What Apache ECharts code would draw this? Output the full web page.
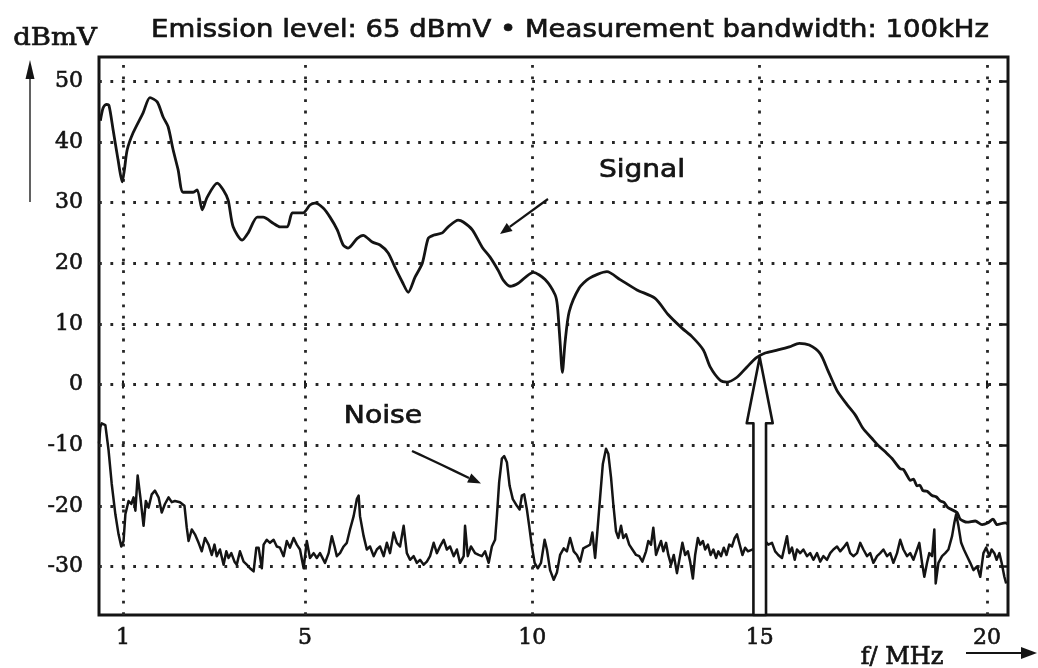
<!DOCTYPE html>
<html><head><meta charset="utf-8">
<script src="https://cdn.jsdelivr.net/npm/echarts@6/dist/echarts.min.js"></script>
<style>html,body{margin:0;padding:0;background:#fff}#c{width:1038px;height:668px}</style>
</head><body><div id="c"></div>
<script>
// ---- data (f in MHz, level in dBmV) ----
const yTicks = [-30, -20, -10, 0, 10, 20, 30, 40, 50];
const xTicks = [1, 5, 10, 15, 20];
const signal = [
[0.50,43.5],[0.56,45.6],[0.63,46.2],[0.69,46.0],[0.78,42.0],[0.89,37.0],[0.98,33.4],[1.03,35.5],[1.09,38.7],[1.22,41.5],
[1.44,44.8],[1.59,47.3],[1.75,46.6],[1.88,44.1],[1.99,42.5],[2.10,38.7],[2.21,35.4],[2.32,31.7],[2.54,31.7],[2.63,32.1],
[2.74,28.8],[2.85,30.9],[3.07,33.2],[3.20,32.1],[3.31,30.4],[3.42,26.0],[3.62,23.8],[3.75,25.0],[3.95,27.6],[4.08,27.6],
[4.30,26.6],[4.45,26.0],[4.61,26.0],[4.72,28.3],[4.85,28.3],[4.96,28.3],[5.11,29.6],[5.22,29.9],[5.40,29.1],[5.55,27.6],
[5.71,25.5],[5.84,23.0],[5.95,22.5],[6.15,24.1],[6.28,24.6],[6.48,23.5],[6.65,23.0],[6.83,21.7],[6.98,19.3],[7.14,16.9],
[7.27,15.2],[7.42,17.7],[7.58,20.0],[7.71,24.1],[7.82,24.6],[8.02,25.0],[8.15,26.0],[8.37,27.1],[8.48,26.8],[8.68,25.5],
[8.90,22.6],[9.07,21.0],[9.25,18.8],[9.36,17.2],[9.51,16.2],[9.69,16.7],[10.02,18.5],[10.28,17.3],[10.50,14.8],[10.55,13.0],
[10.61,7.0],[10.66,2.0],[10.72,7.0],[10.81,12.0],[11.03,15.9],[11.25,17.5],[11.64,18.6],[11.93,17.3],[12.30,15.6],[12.70,14.2],
[12.99,11.5],[13.29,9.3],[13.51,7.9],[13.76,5.7],[13.91,2.9],[14.13,0.7],[14.28,0.4],[14.50,1.2],[14.72,2.9],[14.92,4.4],
[15.12,5.2],[15.34,5.6],[15.65,6.2],[15.87,6.8],[16.09,6.5],[16.33,5.1],[16.50,2.3],[16.70,-1.0],[16.92,-3.3],[17.10,-5.0],
[17.27,-7.2],[17.47,-8.9],[17.60,-10.0],[17.76,-11.1],[17.91,-12.2],[18.09,-13.9],[18.16,-14.0],[18.24,-15.0],[18.31,-15.8],[18.38,-15.6],
[18.46,-16.7],[18.52,-16.6],[18.59,-17.5],[18.68,-17.6],[18.79,-18.3],[18.88,-18.5],[18.97,-19.2],[19.05,-19.4],[19.14,-20.3],[19.34,-21.1],
[19.41,-22.2],[19.56,-22.7],[19.74,-22.5],[19.89,-23.1],[20.02,-22.8],[20.13,-22.2],[20.22,-23.1],[20.40,-22.8],[20.46,-23.0]
];
const noise = [
[0.47,-9.7],[0.50,-7.0],[0.53,-6.4],[0.61,-6.7],[0.68,-10.8],[0.75,-16.4],[0.83,-21.4],[0.90,-24.7],[0.96,-26.7],[1.01,-25.8],
[1.05,-21.4],[1.12,-19.2],[1.18,-19.7],[1.23,-18.6],[1.27,-20.8],[1.32,-15.0],[1.38,-18.6],[1.45,-23.3],[1.50,-19.2],[1.56,-20.3],
[1.63,-18.1],[1.70,-17.5],[1.78,-18.6],[1.85,-21.1],[1.92,-19.7],[2.00,-18.6],[2.07,-19.4],[2.14,-19.2],[2.25,-19.4],[2.35,-20.0],
[2.40,-23.6],[2.44,-25.8],[2.51,-23.9],[2.58,-24.7],[2.66,-26.1],[2.73,-27.5],[2.80,-25.3],[2.88,-26.4],[2.95,-28.1],[3.01,-26.4],
[3.06,-28.3],[3.13,-27.2],[3.21,-29.7],[3.27,-27.5],[3.32,-28.6],[3.38,-27.8],[3.45,-29.2],[3.50,-29.7],[3.57,-27.5],[3.65,-29.2],
[3.72,-29.7],[3.79,-30.3],[3.87,-30.8],[3.93,-26.9],[3.98,-26.9],[4.05,-30.3],[4.09,-26.4],[4.16,-25.6],[4.23,-26.1],[4.31,-25.6],
[4.38,-26.7],[4.45,-26.9],[4.53,-28.3],[4.60,-25.8],[4.67,-26.9],[4.75,-25.3],[4.82,-26.4],[4.89,-27.2],[4.97,-30.3],[5.04,-25.8],
[5.11,-28.6],[5.19,-27.8],[5.26,-28.6],[5.33,-27.8],
[5.44,-29.4],[5.52,-27.8],[5.59,-25.0],[5.65,-26.7],[5.70,-28.3],[5.77,-27.8],[5.85,-26.7],[5.92,-26.1],[5.99,-23.9],[6.07,-21.7],
[6.14,-18.9],[6.18,-18.3],[6.21,-21.7],[6.29,-25.0],[6.36,-27.2],[6.43,-26.7],[6.51,-28.3],[6.58,-27.2],[6.65,-26.7],[6.73,-28.3],
[6.80,-26.1],[6.87,-27.8],[6.95,-24.4],[7.02,-26.1],[7.09,-26.7],[7.17,-23.3],[7.24,-27.8],[7.31,-28.9],[7.39,-28.3],[7.46,-29.4],
[7.53,-28.9],[7.61,-29.7],[7.68,-29.2],[7.75,-28.3],[7.83,-26.1],[7.90,-27.8],[7.97,-26.7],[8.05,-25.6],[8.12,-27.2],[8.19,-26.7],
[8.27,-28.3],[8.34,-27.2],[8.41,-29.4],[8.49,-28.3],[8.52,-23.3],[8.58,-28.3],[8.65,-26.7],[8.74,-27.8],[8.82,-28.1],[8.89,-28.3],
[8.96,-27.5],[9.04,-29.4],[9.11,-26.7],[9.18,-25.6],[9.22,-21.7],[9.27,-16.1],[9.33,-12.2],[9.38,-11.8],[9.44,-12.8],[9.50,-16.7],
[9.57,-18.9],[9.66,-20.0],[9.72,-20.6],[9.77,-18.3],[9.82,-18.1],[9.88,-20.6],[9.93,-23.3],[9.99,-26.7],[10.05,-29.4],[10.12,-30.3],
[10.19,-29.4],[10.27,-25.6],[10.32,-27.2],[10.39,-30.6],[10.47,-32.2],[10.54,-31.0],
[10.61,-28.1],[10.69,-27.0],[10.76,-27.5],[10.83,-25.3],[10.91,-27.5],[10.98,-28.1],[11.05,-29.2],[11.12,-27.0],[11.20,-26.7],[11.27,-26.4],
[11.32,-24.4],[11.38,-28.6],[11.43,-24.2],[11.49,-18.6],[11.55,-13.1],[11.62,-10.6],[11.67,-11.4],[11.73,-15.3],[11.78,-19.7],[11.84,-24.2],
[11.89,-25.3],[11.95,-23.3],[12.00,-25.3],[12.06,-24.7],[12.13,-26.4],[12.20,-27.2],[12.28,-28.1],[12.35,-28.3],[12.42,-29.2],[12.50,-27.5],
[12.55,-25.8],[12.61,-26.4],[12.66,-23.6],[12.72,-28.1],[12.77,-27.0],[12.83,-25.8],[12.88,-27.5],[12.94,-26.1],[12.99,-28.1],[13.05,-29.7],
[13.11,-28.1],[13.18,-31.1],[13.24,-28.6],[13.30,-26.1],[13.36,-28.1],[13.42,-27.5],[13.47,-29.2],[13.53,-32.0],[13.58,-28.1],[13.64,-25.3],
[13.69,-26.4],[13.75,-25.8],[13.80,-27.2],[13.86,-26.4],[13.92,-28.1],[13.98,-27.2],[14.04,-28.6],[14.09,-27.5],[14.15,-28.3],[14.21,-26.9],
[14.27,-28.1],[14.33,-26.4],[14.39,-26.7],[14.45,-25.3],[14.50,-24.7],[14.56,-26.4],[14.62,-28.1],[14.68,-26.9],[14.74,-27.5],[14.90,-27.0],
[15.05,-26.5],[15.12,-25.8],[15.19,-26.4],[15.27,-26.1],[15.34,-27.5],[15.41,-28.1],[15.49,-28.6],
[15.60,-25.0],[15.65,-27.8],[15.71,-26.9],[15.77,-28.9],[15.82,-27.2],[15.89,-27.8],[15.96,-27.2],[16.04,-28.3],[16.11,-27.8],[16.18,-28.9],
[16.26,-27.8],[16.33,-29.2],[16.40,-28.3],[16.48,-28.9],[16.55,-27.8],[16.62,-27.2],[16.70,-26.7],[16.77,-27.5],[16.84,-26.9],[16.92,-26.1],
[16.99,-27.8],[17.06,-28.3],[17.14,-27.8],[17.21,-26.1],[17.28,-27.2],[17.36,-28.3],[17.43,-27.8],[17.50,-29.4],[17.58,-28.3],[17.65,-27.8],
[17.72,-27.2],[17.80,-28.3],[17.87,-27.8],[17.94,-29.4],[18.02,-27.8],[18.09,-25.6],[18.16,-27.2],[18.24,-28.3],[18.31,-27.8],[18.38,-28.9],
[18.46,-27.2],[18.51,-26.1],[18.57,-29.4],[18.62,-31.7],[18.68,-29.4],[18.73,-27.8],[18.79,-28.3],[18.84,-23.9],[18.87,-32.8],[18.93,-29.4],
[19.01,-28.3],[19.08,-27.8],[19.15,-27.2],[19.23,-25.0],[19.28,-22.8],[19.32,-21.4],[19.37,-23.3],[19.43,-26.1],[19.49,-27.2],[19.56,-28.3],
[19.63,-29.4],[19.70,-30.6],[19.78,-30.0],[19.85,-31.7],[19.92,-27.8],[19.98,-26.9],[20.05,-28.3],[20.10,-27.2],[20.16,-27.8],[20.21,-28.9],
[20.27,-27.8],[20.32,-29.4],[20.38,-31.7],[20.42,-32.8]
];
const markerFreq = 15;     // emission frequency (hollow arrow)
const markerLevel = 4.5;   // where the arrow tip meets the signal
const xMin = 0.47, xMax = 20.46, yMin = -38, yMax = 54;

// ---- chart ----
const ink = '#141414';
const dotted = {color: '#262626', width: 2.8, type: [2.8, 8.6], cap: 'butt', opacity: 1};
const chart = echarts.init(document.getElementById('c'), null, {renderer: 'canvas'});
const sans = '"DejaVu Sans", sans-serif';
const serif = '"DejaVu Serif", serif';
const heavy = {stroke: ink, lineWidth: 0.7};

const option = {
  animation: false,
  grid: {left: 99, right: 30, top: 57, bottom: 53, show: true, borderColor: ink, borderWidth: 3, backgroundColor: 'rgba(0,0,0,0)'},
  xAxis: [
    {type: 'value', min: xMin, max: xMax, axisLine: {show: false}, splitLine: {show: false},
     axisTick: {show: true, customValues: xTicks, length: 4, lineStyle: {color: ink, width: 2}},
     axisLabel: {customValues: xTicks, fontFamily: serif, fontSize: 22, color: ink, margin: 12, textBorderColor: ink, textBorderWidth: 0.6}},
    {type: 'value', position: 'top', min: xMin, max: xMax, axisLine: {show: false}, splitLine: {show: false},
     axisTick: {show: true, customValues: xTicks, length: 4, lineStyle: {color: ink, width: 2}},
     axisLabel: {show: false}}
  ],
  yAxis: [
    {type: 'value', min: yMin, max: yMax, axisLine: {show: false}, splitLine: {show: false}, axisTick: {show: false},
     axisLabel: {customValues: yTicks, fontFamily: serif, fontSize: 22, color: ink, margin: 16, textBorderColor: ink, textBorderWidth: 0.6}},
    {type: 'value', position: 'right', min: yMin, max: yMax, axisLine: {show: false}, splitLine: {show: false},
     axisLabel: {show: false},
     axisTick: {show: true, inside: true, length: 9, customValues: yTicks, lineStyle: {color: ink, width: 2.5}}}
  ],
  series: [
    {type: 'line', name: 'grid', data: [[xTicks[0], yTicks[0]]], symbol: 'none', lineStyle: {opacity: 0}, z: 1, silent: true,
     markLine: {silent: true, symbol: ['none', 'none'], label: {show: false}, lineStyle: dotted,
       emphasis: {disabled: true},
       data: yTicks.map(v => ({yAxis: v})).concat(xTicks.map(v => ({xAxis: v})))}},
    {type: 'line', name: 'Signal', data: signal, symbol: 'none', smooth: 0.25, lineStyle: {color: ink, width: 2.8}, z: 5, silent: true},
    {type: 'line', name: 'Noise', data: noise, symbol: 'none', lineStyle: {color: ink, width: 2.5, join: 'round'}, z: 5, silent: true}
  ],
  graphic: [
    {type: 'rect', id: 'boxSignal', z: 3, shape: {x: 552, y: 133, width: 176, height: 62}, style: {fill: '#fff'}},
    {type: 'rect', id: 'boxNoise', z: 3, shape: {x: 315, y: 373, width: 142, height: 84}, style: {fill: '#fff'}},
    {type: 'text', id: 'title', z: 10, x: 570, y: 30, scaleX: 1.1,
     style: Object.assign({text: 'Emission level: 65 dBmV \u2022 Measurement bandwidth: 100kHz', font: '25px ' + sans, fill: ink, align: 'center', verticalAlign: 'middle'}, heavy)},
    {type: 'text', id: 'yname', z: 10, x: 55, y: 38, scaleX: 1.1,
     style: Object.assign({text: 'dBmV', font: '25px ' + serif, fill: ink, align: 'center', verticalAlign: 'middle'}, heavy)},
    {type: 'line', id: 'yarrowLine', z: 10, shape: {x1: 30, y1: 202, x2: 30, y2: 74}, style: {stroke: '#3a3a3a', lineWidth: 1.6}},
    {type: 'polygon', id: 'yarrowHead', z: 10, shape: {points: [[30, 60], [25.5, 79], [34.5, 79]]}, style: {fill: ink}},
    {type: 'text', id: 'xname', z: 10, x: 902, y: 658,
     style: Object.assign({text: 'f/ MHz', font: '24px ' + serif, fill: ink, align: 'center', verticalAlign: 'middle'}, heavy)},
    {type: 'line', id: 'xarrowLine', z: 10, shape: {x1: 966, y1: 653, x2: 1024, y2: 653}, style: {stroke: ink, lineWidth: 2}},
    {type: 'polygon', id: 'xarrowHead', z: 10, shape: {points: [[1037, 653], [1021, 647], [1021, 659]]}, style: {fill: ink}},
    {type: 'text', id: 'sigLabel', z: 10, x: 642, y: 170, scaleX: 1.12,
     style: Object.assign({text: 'Signal', font: '25px ' + sans, fill: ink, align: 'center', verticalAlign: 'middle'}, heavy)},
    {type: 'line', id: 'sigArrow', z: 10, shape: {x1: 548, y1: 199, x2: 509.7, y2: 226.9}, style: {stroke: ink, lineWidth: 2.2}},
    {type: 'polygon', id: 'sigHead', z: 10, shape: {points: [[500, 234], [512.6, 230.9], [506.7, 222.9]]}, style: {fill: ink}},
    {type: 'text', id: 'noiseLabel', z: 10, x: 383, y: 416, scaleX: 1.13,
     style: Object.assign({text: 'Noise', font: '25px ' + sans, fill: ink, align: 'center', verticalAlign: 'middle'}, heavy)},
    {type: 'polyline', id: 'noiseArrow', z: 10, shape: {points: [[412, 451], [425, 457], [442, 465], [469, 478]], smooth: 0.3}, style: {stroke: ink, lineWidth: 2.4, fill: null}},
    {type: 'polygon', id: 'noiseHead', z: 10, shape: {points: [[481, 483.5], [467.1, 482.5], [471.3, 473.5]]}, style: {fill: ink}}
  ]
};
chart.setOption(option);

// hollow arrow marking the emission frequency, positioned through the axes
const tip = chart.convertToPixel({gridIndex: 0}, [markerFreq, markerLevel]);
const foot = chart.convertToPixel({gridIndex: 0}, [markerFreq, yMin]);
const cx = tip[0], shaft = 6.3, head = 13, baseY = tip[1] + 66;
chart.setOption({graphic: [{
  type: 'polygon', id: 'bigArrow', z: 8,
  shape: {points: [[cx - shaft, foot[1]], [cx - shaft, baseY], [cx - head, baseY], [cx, tip[1]], [cx + head, baseY], [cx + shaft, baseY], [cx + shaft, foot[1]]]},
  style: {fill: '#fff', stroke: ink, lineWidth: 2.6, lineJoin: 'round'}
}]});
</script>
</body></html>
